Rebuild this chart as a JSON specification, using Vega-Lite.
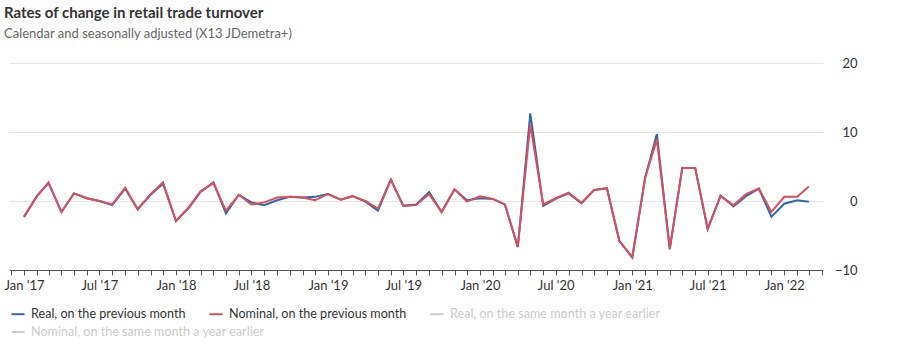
{
  "$schema": "https://vega.github.io/schema/vega-lite/v6.json",
  "autosize": {"type": "none"},
  "width": 814,
  "height": 207,
  "padding": {"left": 9, "top": 63, "right": 77, "bottom": 83},
  "background": "#ffffff",
  "config": {"view": {"stroke": null}, "font": "Lato"},
  "title": {
    "text": "Rates of change in retail trade turnover",
    "subtitle": "Calendar and seasonally adjusted (X13 JDemetra+)",
    "anchor": "start",
    "font": "Lato",
    "fontSize": 15,
    "fontWeight": "bold",
    "color": "#333333",
    "subtitleFont": "Lato",
    "subtitleFontSize": 13,
    "subtitleColor": "#666666",
    "subtitlePadding": 7,
    "offset": 16
  },
  "data": {"values": [
    {"month":"2017-01-01","series":"real","value":-2.3},{"month":"2017-02-01","series":"real","value":0.7},{"month":"2017-03-01","series":"real","value":2.6},{"month":"2017-04-01","series":"real","value":-1.6},{"month":"2017-05-01","series":"real","value":1.1},{"month":"2017-06-01","series":"real","value":0.4},{"month":"2017-07-01","series":"real","value":0.0},{"month":"2017-08-01","series":"real","value":-0.6},{"month":"2017-09-01","series":"real","value":1.8},{"month":"2017-10-01","series":"real","value":-1.2},{"month":"2017-11-01","series":"real","value":0.9},{"month":"2017-12-01","series":"real","value":2.5},
    {"month":"2018-01-01","series":"real","value":-2.9},{"month":"2018-02-01","series":"real","value":-1.0},{"month":"2018-03-01","series":"real","value":1.3},{"month":"2018-04-01","series":"real","value":2.7},{"month":"2018-05-01","series":"real","value":-1.8},{"month":"2018-06-01","series":"real","value":0.9},{"month":"2018-07-01","series":"real","value":-0.2},{"month":"2018-08-01","series":"real","value":-0.6},{"month":"2018-09-01","series":"real","value":0.1},{"month":"2018-10-01","series":"real","value":0.6},{"month":"2018-11-01","series":"real","value":0.5},{"month":"2018-12-01","series":"real","value":0.6},
    {"month":"2019-01-01","series":"real","value":1.0},{"month":"2019-02-01","series":"real","value":0.2},{"month":"2019-03-01","series":"real","value":0.7},{"month":"2019-04-01","series":"real","value":-0.1},{"month":"2019-05-01","series":"real","value":-1.4},{"month":"2019-06-01","series":"real","value":3.1},{"month":"2019-07-01","series":"real","value":-0.7},{"month":"2019-08-01","series":"real","value":-0.5},{"month":"2019-09-01","series":"real","value":1.3},{"month":"2019-10-01","series":"real","value":-1.6},{"month":"2019-11-01","series":"real","value":1.7},{"month":"2019-12-01","series":"real","value":0.1},
    {"month":"2020-01-01","series":"real","value":0.4},{"month":"2020-02-01","series":"real","value":0.3},{"month":"2020-03-01","series":"real","value":-0.5},{"month":"2020-04-01","series":"real","value":-6.7},{"month":"2020-05-01","series":"real","value":12.7},{"month":"2020-06-01","series":"real","value":-0.7},{"month":"2020-07-01","series":"real","value":0.3},{"month":"2020-08-01","series":"real","value":1.1},{"month":"2020-09-01","series":"real","value":-0.3},{"month":"2020-10-01","series":"real","value":1.6},{"month":"2020-11-01","series":"real","value":1.85},{"month":"2020-12-01","series":"real","value":-5.8},
    {"month":"2021-01-01","series":"real","value":-8.2},{"month":"2021-02-01","series":"real","value":3.4},{"month":"2021-03-01","series":"real","value":9.7},{"month":"2021-04-01","series":"real","value":-7.0},{"month":"2021-05-01","series":"real","value":4.8},{"month":"2021-06-01","series":"real","value":4.8},{"month":"2021-07-01","series":"real","value":-4.1},{"month":"2021-08-01","series":"real","value":0.8},{"month":"2021-09-01","series":"real","value":-0.8},{"month":"2021-10-01","series":"real","value":0.7},{"month":"2021-11-01","series":"real","value":1.8},{"month":"2021-12-01","series":"real","value":-2.3},
    {"month":"2022-01-01","series":"real","value":-0.4},{"month":"2022-02-01","series":"real","value":0.1},{"month":"2022-03-01","series":"real","value":-0.1},
    {"month":"2017-01-01","series":"nominal","value":-2.3},{"month":"2017-02-01","series":"nominal","value":0.7},{"month":"2017-03-01","series":"nominal","value":2.7},{"month":"2017-04-01","series":"nominal","value":-1.6},{"month":"2017-05-01","series":"nominal","value":1.1},{"month":"2017-06-01","series":"nominal","value":0.4},{"month":"2017-07-01","series":"nominal","value":0.0},{"month":"2017-08-01","series":"nominal","value":-0.5},{"month":"2017-09-01","series":"nominal","value":1.9},{"month":"2017-10-01","series":"nominal","value":-1.2},{"month":"2017-11-01","series":"nominal","value":1.0},{"month":"2017-12-01","series":"nominal","value":2.7},
    {"month":"2018-01-01","series":"nominal","value":-2.9},{"month":"2018-02-01","series":"nominal","value":-0.9},{"month":"2018-03-01","series":"nominal","value":1.4},{"month":"2018-04-01","series":"nominal","value":2.6},{"month":"2018-05-01","series":"nominal","value":-1.4},{"month":"2018-06-01","series":"nominal","value":0.9},{"month":"2018-07-01","series":"nominal","value":-0.5},{"month":"2018-08-01","series":"nominal","value":-0.2},{"month":"2018-09-01","series":"nominal","value":0.5},{"month":"2018-10-01","series":"nominal","value":0.6},{"month":"2018-11-01","series":"nominal","value":0.5},{"month":"2018-12-01","series":"nominal","value":0.1},
    {"month":"2019-01-01","series":"nominal","value":1.0},{"month":"2019-02-01","series":"nominal","value":0.2},{"month":"2019-03-01","series":"nominal","value":0.7},{"month":"2019-04-01","series":"nominal","value":0.0},{"month":"2019-05-01","series":"nominal","value":-1.1},{"month":"2019-06-01","series":"nominal","value":3.1},{"month":"2019-07-01","series":"nominal","value":-0.7},{"month":"2019-08-01","series":"nominal","value":-0.6},{"month":"2019-09-01","series":"nominal","value":1.0},{"month":"2019-10-01","series":"nominal","value":-1.6},{"month":"2019-11-01","series":"nominal","value":1.7},{"month":"2019-12-01","series":"nominal","value":-0.1},
    {"month":"2020-01-01","series":"nominal","value":0.7},{"month":"2020-02-01","series":"nominal","value":0.3},{"month":"2020-03-01","series":"nominal","value":-0.5},{"month":"2020-04-01","series":"nominal","value":-6.6},{"month":"2020-05-01","series":"nominal","value":11.1},{"month":"2020-06-01","series":"nominal","value":-0.5},{"month":"2020-07-01","series":"nominal","value":0.4},{"month":"2020-08-01","series":"nominal","value":1.2},{"month":"2020-09-01","series":"nominal","value":-0.3},{"month":"2020-10-01","series":"nominal","value":1.6},{"month":"2020-11-01","series":"nominal","value":1.8},{"month":"2020-12-01","series":"nominal","value":-5.8},
    {"month":"2021-01-01","series":"nominal","value":-8.1},{"month":"2021-02-01","series":"nominal","value":3.4},{"month":"2021-03-01","series":"nominal","value":8.9},{"month":"2021-04-01","series":"nominal","value":-6.9},{"month":"2021-05-01","series":"nominal","value":4.8},{"month":"2021-06-01","series":"nominal","value":4.8},{"month":"2021-07-01","series":"nominal","value":-4.0},{"month":"2021-08-01","series":"nominal","value":0.7},{"month":"2021-09-01","series":"nominal","value":-0.6},{"month":"2021-10-01","series":"nominal","value":1.0},{"month":"2021-11-01","series":"nominal","value":1.8},{"month":"2021-12-01","series":"nominal","value":-1.6},
    {"month":"2022-01-01","series":"nominal","value":0.6},{"month":"2022-02-01","series":"nominal","value":0.6},{"month":"2022-03-01","series":"nominal","value":2.1}
  ]},
  "encoding": {
    "x": {
      "field": "month",
      "type": "temporal",
      "scale": {"type": "utc", "domain": [{"year": 2016, "month": 11, "date": 26, "utc": true}, {"year": 2022, "month": 4, "date": 4, "utc": true}]},
      "axis": {
        "title": null,
        "grid": false,
        "tickCount": {"interval": "month", "step": 1},
        "labelExpr": "(utcFormat(datum.value, '%m') == '01' || utcFormat(datum.value, '%m') == '07') ? utcFormat(datum.value, \"%b '%y\") : ''",
        "labelFont": "Lato",
        "labelFontSize": 13,
        "labelColor": "#333333",
        "labelPadding": 4,
        "labelOverlap": false,
        "labelFlush": false,
        "domainColor": "#555555",
        "domainWidth": 1,
        "tickColor": "#555555",
        "tickSize": 5
      }
    },
    "y": {
      "field": "value",
      "type": "quantitative",
      "scale": {"domain": [-10, 20], "nice": false, "zero": false},
      "axis": {
        "orient": "right",
        "title": null,
        "values": [-10, 0, 10, 20],
        "domain": false,
        "ticks": false,
        "grid": true,
        "gridColor": "#e6e6e6",
        "gridWidth": 1,
        "labelAlign": "right",
        "labelPadding": 34,
        "labelFont": "Lato",
        "labelFontSize": 13,
        "labelColor": "#333333"
      }
    }
  },
  "layer": [
    {
      "mark": {"type": "line", "strokeWidth": 2, "interpolate": "linear"},
      "encoding": {
        "color": {
          "field": "series",
          "type": "nominal",
          "scale": {"domain": ["real", "nominal", "real_yoy"], "range": ["#2d6aa5", "#dc4e5d", "#cccccc"]},
          "legend": {
            "orient": "none",
            "legendX": 1,
            "legendY": 243,
            "direction": "horizontal",
            "title": null,
            "padding": 0,
            "symbolType": "stroke",
            "symbolSize": 170,
            "symbolStrokeWidth": 2,
            "labelFont": "Lato",
            "labelFontSize": 12.6,
            "labelOffset": 5,
            "columnPadding": 19,
            "labelLimit": 400,
            "labelColor": {"expr": "datum.value == 'real' || datum.value == 'nominal' ? '#333333' : '#cccccc'"},
            "labelExpr": "datum.value == 'real' ? 'Real, on the previous month' : datum.value == 'nominal' ? 'Nominal, on the previous month' : 'Real, on the same month a year earlier'"
          }
        }
      }
    },
    {
      "transform": [{"filter": "datum.series == 'nominal_yoy'"}],
      "mark": {"type": "line", "strokeWidth": 2, "interpolate": "linear"},
      "encoding": {
        "color": {
          "field": "series",
          "type": "nominal",
          "scale": {"domain": ["nominal_yoy"], "range": ["#cccccc"]},
          "legend": {
            "orient": "none",
            "legendX": 1,
            "legendY": 261,
            "direction": "horizontal",
            "title": null,
            "padding": 0,
            "symbolType": "stroke",
            "symbolSize": 170,
            "symbolStrokeWidth": 2,
            "labelFont": "Lato",
            "labelFontSize": 12.6,
            "labelOffset": 5,
            "labelLimit": 400,
            "labelColor": "#cccccc",
            "labelExpr": "'Nominal, on the same month a year earlier'"
          }
        }
      }
    }
  ],
  "resolve": {"scale": {"color": "independent"}, "legend": {"color": "independent"}}
}
